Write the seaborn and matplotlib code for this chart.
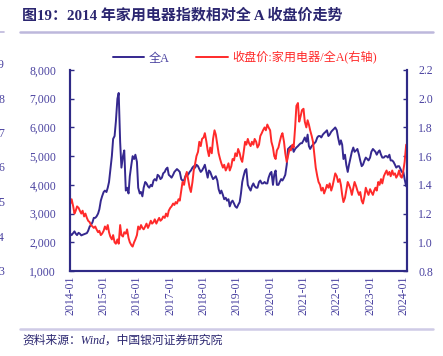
import pandas as pd
import matplotlib
matplotlib.use("Agg")
import matplotlib.pyplot as plt
import matplotlib.dates as mdates
from matplotlib.ticker import FuncFormatter, MultipleLocator
import seaborn as sns

# semi-monthly readings, 2014-01 .. 2024-02
dates = pd.date_range("2014-01-01", "2024-02-01", freq="SMS")

all_a = [
    # 2014
    2300, 2250, 2320, 2380, 2300, 2250, 2330, 2300, 2240, 2260, 2280, 2300,
    2320, 2400, 2550, 2600, 2700, 2850, 2850, 2900, 3000, 3150, 3450, 3600,
    # 2015
    3750, 3800, 3750, 3900, 4100, 4500, 5000, 5600, 5700, 6200, 7000, 7200,
    5500, 4600, 5000, 5200, 3800, 3900, 3700, 4300, 4700, 5000, 4900, 5050,
    # 2016
    4800, 3900, 3700, 3750, 3600, 3900, 4100, 4050, 3950, 3900, 4000, 3950,
    4150, 4200, 4150, 4350, 4300, 4200, 4250, 4400, 4450, 4550, 4600, 4350,
    # 2017
    4300, 4250, 4350, 4450, 4500, 4550, 4500, 4450, 4200, 4150, 4150, 4300,
    4400, 4350, 4450, 4500, 4600, 4650, 4600, 4700, 4650, 4550, 4450, 4500,
    # 2018
    4600, 4700, 4450, 4250, 4500, 4450, 4300, 4200, 4250, 4300, 4150, 3850,
    3700, 3800, 3650, 3500, 3550, 3450, 3500, 3250, 3400, 3450, 3350, 3250,
    # 2019
    3200, 3300, 3400, 3700, 4100, 4300, 4500, 4550, 4000, 3900, 3800, 3950,
    4050, 3950, 3900, 3900, 4100, 4150, 4050, 4050, 4100, 4050, 4050, 4250,
    # 2020
    4400, 4450, 4000, 4350, 4500, 4000, 4000, 4100, 4200, 4150, 4250, 4350,
    4700, 5250, 5300, 5350, 5350, 5150, 5250, 5300, 5350, 5400, 5450, 5450,
    # 2021
    5550, 5650, 5500, 5750, 5350, 5250, 5350, 5400, 5450, 5500, 5650, 5700,
    5700, 5650, 5750, 5800, 5850, 5900, 5700, 5750, 5850, 5900, 5950, 6000,
    # 2022
    5900, 5650, 5400, 5550, 5400, 4900, 5050, 4700, 4450, 4700, 4950, 5150,
    5300, 5150, 5200, 5250, 5050, 4850, 4650, 4700, 4850, 4950, 4900, 4850,
    # 2023
    4950, 5150, 5250, 5200, 5150, 5050, 5150, 5200, 5050, 4950, 4950, 5000,
    5000, 4950, 5050, 4850, 4850, 4800, 4700, 4600, 4650, 4650, 4550, 4450,
    # 2024
    4450, 4200, 3950,
]

ratio = [
    # 2014
    1.27, 1.30, 1.25, 1.20, 1.22, 1.25, 1.24, 1.22, 1.20, 1.22, 1.18, 1.20,
    1.17, 1.15, 1.14, 1.12, 1.11, 1.10, 1.11, 1.09, 1.07, 1.08, 1.05, 1.06,
    # 2015
    1.08, 1.11, 1.09, 1.12, 1.07, 1.04, 1.02, 1.05, 1.00, 0.99, 1.02, 0.99,
    1.12, 1.05, 1.04, 1.07, 1.06, 1.09, 1.03, 1.00, 0.98, 0.97, 1.00, 1.02,
    # 2016
    1.05, 1.11, 1.09, 1.12, 1.10, 1.09, 1.11, 1.13, 1.10, 1.12, 1.15, 1.13,
    1.14, 1.16, 1.13, 1.15, 1.17, 1.15, 1.16, 1.18, 1.17, 1.20, 1.18, 1.22,
    # 2017
    1.24, 1.25, 1.27, 1.26, 1.28, 1.27, 1.30, 1.29, 1.36, 1.42, 1.40, 1.45,
    1.49, 1.44, 1.38, 1.35, 1.42, 1.50, 1.55, 1.60, 1.63, 1.70, 1.67, 1.72,
    # 2018
    1.73, 1.76, 1.70, 1.64, 1.60, 1.66, 1.62, 1.72, 1.78, 1.75, 1.68, 1.62,
    1.58, 1.55, 1.52, 1.54, 1.50, 1.52, 1.55, 1.50, 1.53, 1.58, 1.57, 1.62,
    # 2019
    1.60, 1.65, 1.62, 1.58, 1.56, 1.62, 1.70, 1.68, 1.72, 1.69, 1.67, 1.70,
    1.68, 1.72, 1.70, 1.66, 1.68, 1.74, 1.76, 1.78, 1.80, 1.78, 1.82, 1.80,
    # 2020
    1.78, 1.70, 1.66, 1.60, 1.58, 1.64, 1.66, 1.70, 1.74, 1.76, 1.70, 1.62,
    1.56, 1.60, 1.65, 1.64, 1.68, 1.66, 1.80, 1.95, 1.97, 1.84, 1.88, 1.92,
    # 2021
    1.93, 1.84, 1.80, 1.85, 1.82, 1.78, 1.74, 1.70, 1.60, 1.52, 1.46, 1.42,
    1.40, 1.36, 1.38, 1.34, 1.37, 1.40, 1.38, 1.41, 1.36, 1.39, 1.44, 1.48,
    # 2022
    1.46, 1.42, 1.44, 1.40, 1.33, 1.28, 1.31, 1.36, 1.42, 1.40, 1.37, 1.33,
    1.38, 1.42, 1.39, 1.36, 1.33, 1.35, 1.29, 1.27, 1.32, 1.38, 1.35, 1.33,
    # 2023
    1.37, 1.35, 1.33, 1.36, 1.38, 1.36, 1.42, 1.40, 1.44, 1.41, 1.46, 1.48,
    1.50, 1.47, 1.49, 1.46, 1.50, 1.47, 1.48, 1.45, 1.47, 1.50, 1.46, 1.45,
    # 2024
    1.50, 1.56, 1.68,
]

label_all = "全A"
label_ratio = "收盘价:家用电器/全A(右轴)"
title = "图19：2014 年家用电器指数相对全 A 收盘价走势"
source = "资料来源：Wind，中国银河证券研究院"

df = pd.DataFrame({"date": dates, "all_a": all_a, "ratio": ratio})

BLUE = "#35288f"
RED = "#ff2a2a"
AXC = "#2f2a86"
TXT = "#4a42a0"

sns.set_theme(style="white")
plt.rcParams["font.family"] = ["Liberation Serif", "Noto Sans CJK SC"]

fig = plt.figure(figsize=(4.43, 3.56), dpi=100)
ax = fig.add_axes([70 / 443, 1 - 271 / 356, 337 / 443, 201 / 356])
ax2 = ax.twinx()

sns.lineplot(data=df, x="date", y="all_a", ax=ax, color=BLUE, lw=1.4, label=label_all, legend=False)
sns.lineplot(data=df, x="date", y="ratio", ax=ax2, color=RED, lw=1.4, label=label_ratio, legend=False)

ax.set_xlim(pd.Timestamp("2013-12-28"), pd.Timestamp("2024-02-10"))
ax.set_ylim(1000, 8000)
ax2.set_ylim(0.8, 2.2)
ax.yaxis.set_major_locator(MultipleLocator(1000))
ax2.yaxis.set_major_locator(MultipleLocator(0.2))
ax.yaxis.set_major_formatter(FuncFormatter(lambda v, p: f"{v:,.0f}"))
ax2.yaxis.set_major_formatter(FuncFormatter(lambda v, p: f"{v:.1f}"))
ax.xaxis.set_major_locator(mdates.YearLocator())
ax.xaxis.set_major_formatter(mdates.DateFormatter("%Y-%m"))
ax.set_xlabel("")
ax.set_ylabel("")
ax2.set_ylabel("")

for a in (ax, ax2):
    a.grid(False)
    a.spines["top"].set_visible(False)
    for s in ("left", "right", "bottom"):
        a.spines[s].set_color(AXC)
        a.spines[s].set_linewidth(1.5)
    a.tick_params(direction="in", length=3, width=1, color=AXC, labelcolor=TXT, labelsize=8.5)
ax.tick_params(axis="x", rotation=90, pad=3)
ax.tick_params(axis="y", pad=10)
ax2.tick_params(axis="y", pad=8)
ax.set_facecolor("none")

h1, l1 = ax.get_legend_handles_labels()
h2, l2 = ax2.get_legend_handles_labels()
fig.legend(h1 + h2, l1 + l2, loc="center", bbox_to_anchor=(245 / 443, 1 - 58 / 356),
           ncol=2, frameon=False, handlelength=2.6, columnspacing=2.2,
           handletextpad=0.4, labelcolor=[TXT, RED],
           prop={"family": ["Liberation Serif", "Noto Sans CJK SC"], "size": 8.7})

# title, rules and source
fig.text(22 / 443, 1 - 15 / 356, title, fontsize=10.8, fontweight="bold", color="#2b2670",
         va="center", ha="left", family=["Liberation Serif", "Noto Sans CJK SC"])
fig.add_artist(plt.Line2D([20 / 443, 433 / 443], [1 - 32 / 356] * 2, color="#bdb8dc", lw=1.8))
fig.add_artist(plt.Line2D([0, 4 / 443], [1 - 32 / 356] * 2, color="#bdb8dc", lw=1.2))
fig.add_artist(plt.Line2D([20 / 443, 433 / 443], [1 - 329 / 356] * 2, color="#cfcbe6", lw=1.8))
fig.text(22 / 443, 1 - 341 / 356, source, fontsize=8.5, style="italic", color="#2b2670",
         va="center", ha="left", family=["Liberation Serif", "Noto Sans CJK SC"])

# clipped tick digits of the neighbouring chart at the left edge
for d, yy in zip(["9", "8", "7", "6", "5", "4", "3"], [65, 100, 134, 168, 203, 238, 272]):
    fig.text(-2 / 443, 1 - yy / 356, d, fontsize=8.5, color=TXT, va="center", ha="left")

fig.savefig("out.png", dpi=100)
